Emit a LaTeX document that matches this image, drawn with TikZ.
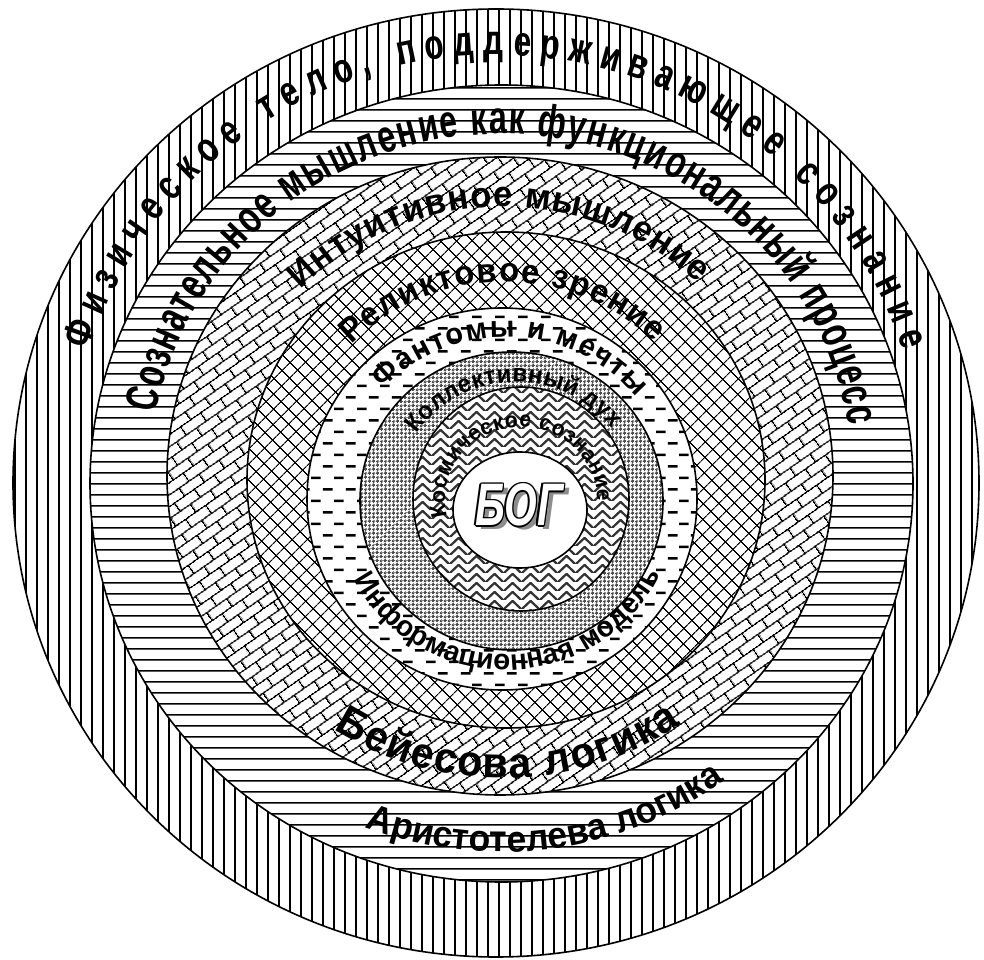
\documentclass[tikz,border=0pt]{standalone}
\usepackage{fontspec}
\setmainfont{Liberation Sans}
\newfontfamily\wfa{Liberation Sans}[FakeStretch=0.7]
\newfontfamily\wfd{Liberation Sans}[FakeStretch=0.96]
\newfontfamily\wfe{Liberation Sans}[FakeStretch=0.75]
\usetikzlibrary{patterns.meta,decorations.text}
\newcommand\tfa[1]{\wfa\bfseries\fontsize{#1}{#1}\selectfont}
\newcommand\tfd[1]{\wfd\bfseries\fontsize{#1}{#1}\selectfont}
\newcommand\tfe[1]{\wfe\bfseries\fontsize{#1}{#1}\selectfont}

\tikzdeclarepattern{
  name=vlin, type=uncolored,
  bottom left={(0pt,0pt)}, top right={(10.5pt,10.5pt)}, tile size={(10.5pt,10.5pt)},
  code={\draw[line width=1.6pt] (5.25pt,-1pt) -- (5.25pt,11.5pt);}
}
\tikzdeclarepattern{
  name=hlin, type=uncolored,
  bottom left={(0pt,0pt)}, top right={(10.7pt,10.7pt)}, tile size={(10.7pt,10.7pt)},
  code={\draw[line width=1.6pt] (-1pt,5.35pt) -- (11.7pt,5.35pt);}
}
\tikzdeclarepattern{
  name=dbrick, type=uncolored,
  bottom left={(0pt,0pt)}, top right={(24pt,20pt)}, tile size={(24pt,20pt)},
  tile transformation={rotate=35},
  code={\draw[line width=1.5pt] (-1pt,5pt)--(25pt,5pt) (-1pt,15pt)--(25pt,15pt)
      (6pt,5pt)--(6pt,15pt) (18pt,15pt)--(18pt,21pt) (18pt,-1pt)--(18pt,5pt);}
}
\tikzdeclarepattern{
  name=xh, type=uncolored,
  bottom left={(0pt,0pt)}, top right={(10.6pt,10.6pt)}, tile size={(10.6pt,10.6pt)},
  tile transformation={rotate=45},
  code={\draw[line width=1.4pt] (-1pt,5.3pt)--(11.6pt,5.3pt) (5.3pt,-1pt)--(5.3pt,11.6pt);}
}
\tikzdeclarepattern{
  name=hdash, type=uncolored,
  bottom left={(0pt,0pt)}, top right={(23pt,23.4pt)}, tile size={(23pt,23.4pt)},
  code={\draw[line width=2.6pt] (1pt,5.85pt)--(11pt,5.85pt) (12.5pt,17.55pt)--(22.5pt,17.55pt);}
}
\tikzdeclarepattern{
  name=chk, type=uncolored,
  bottom left={(0pt,0pt)}, top right={(6pt,6pt)}, tile size={(6pt,6pt)},
  tile transformation={rotate=45},
  code={\fill (0pt,0pt) rectangle (3pt,3pt) (3pt,3pt) rectangle (6pt,6pt);}
}
\tikzdeclarepattern{
  name=zz, type=uncolored,
  bottom left={(0pt,0pt)}, top right={(18pt,9pt)}, tile size={(18pt,9pt)},
  code={\draw[line width=2.4pt] (-1pt,-1pt)--(9pt,9pt)--(19pt,-1pt);}
}

\tikzset{
  ring/.style={fill=white},
  rline/.style={draw=black, line width=1.6pt},
  arctext/.style={decorate, decoration={text along path, text align=fit to path, text={#1}}}
}

\begin{document}
\begin{tikzpicture}[x=1pt,y=1pt]
\useasboundingbox (0,0) rectangle (984,959);
\fill[white] (0,0) rectangle (984,959);

% centres
\coordinate (c1) at (496,476);
\coordinate (c2) at (501.5,475.5);
\coordinate (c3) at (500,483);
\coordinate (c4) at (506,479);
\coordinate (c5) at (502,460);
\coordinate (c6) at (511.5,458);
\coordinate (c7) at (521,460);
\coordinate (c8) at (520,449);

% rings, outer to inner
\path[ring] (c1) ellipse [x radius=483, y radius=474];
\path[pattern=vlin] (c1) ellipse [x radius=483, y radius=474];
\path[rline] (c1) ellipse [x radius=483, y radius=474];

\path[ring] (c2) ellipse [x radius=411.5, y radius=398.5];
\path[pattern=hlin] (c2) ellipse [x radius=411.5, y radius=398.5];
\path[rline] (c2) ellipse [x radius=411.5, y radius=398.5];

\path[ring] (c3) ellipse [x radius=333, y radius=319];
\path[pattern=dbrick] (c3) ellipse [x radius=333, y radius=319];
\path[rline] (c3) ellipse [x radius=333, y radius=319];

\path[ring] (c4) ellipse [x radius=259, y radius=248];
\path[pattern=xh] (c4) ellipse [x radius=259, y radius=248];
\path[rline] (c4) ellipse [x radius=259, y radius=248];

\path[ring] (c5) ellipse [x radius=195, y radius=191];
\path[pattern=hdash] (c5) ellipse [x radius=195, y radius=191];
\path[rline] (c5) ellipse [x radius=195, y radius=191];

\path[ring] (c6) ellipse [x radius=151.5, y radius=149];
\path[pattern=chk, pattern color=black!70] (c6) ellipse [x radius=151.5, y radius=149];
\path[rline] (c6) ellipse [x radius=151.5, y radius=149];

\path[ring] (c7) ellipse [x radius=108, y radius=112];
\path[pattern=zz, pattern color=black!80] (c7) ellipse [x radius=108, y radius=112];
\path[rline] (c7) ellipse [x radius=108, y radius=112];

\path[ring] (c8) ellipse [x radius=67, y radius=58];
\path[rline] (c8) ellipse [x radius=67, y radius=58];

% texts
\path[arctext={|\tfe{42}|Физическое тело, поддерживающее сознание}]
  (c1) ++(162:428 and 428) arc[start angle=162, end angle=18, x radius=428, y radius=428];
\path[arctext={|\tfa{46}|Сознательное мышление как функциональный процесс}]
  (501,479) ++(169:352 and 346) arc[start angle=169, end angle=9, x radius=352, y radius=346];
\path[arctext={|\tfd{37}|Аристотелева логика}]
  (501,479) ++(249:380 and 372) arc[start angle=249, end angle=306, x radius=380, y radius=372];
\path[arctext={|\tfd{36}|Интуитивное мышление}]
  (503,481) ++(136:281 and 271) arc[start angle=136, end angle=46, x radius=281, y radius=271];
\path[arctext={|\tfd{43}|Бейесова логика}]
  (503,481) ++(237:310 and 300) arc[start angle=237, end angle=305, x radius=310, y radius=300];
\path[arctext={|\tfd{34}|Реликтовое зрение}]
  (504,471) ++(136:212 and 206) arc[start angle=136, end angle=45, x radius=212, y radius=206];
\path[arctext={|\tfd{30}|Фантомы и мечты}]
  (506,459) ++(137:168 and 163) arc[start angle=137, end angle=39, x radius=168, y radius=163];
\path[arctext={|\tfd{29}|Информационная модель}]
  (506,459) ++(208:172 and 170) arc[start angle=208, end angle=334, x radius=172, y radius=170];
\path[arctext={|\tfd{25}|Коллективный дух}]
  (516,459) ++(146:120 and 118) arc[start angle=146, end angle=37, x radius=120, y radius=118];
\path[arctext={|\tfd{22}|Космическое сознание}]
  (521,460) ++(194:76 and 72) arc[start angle=194, end angle=-2, x radius=76, y radius=72];

% centre word
\newcommand\bogtxt{\wfa\bfseries\itshape\fontsize{60}{60}\selectfont БОГ}
\node[text=black!45] (bogshadow) at (524,450) {\bogtxt};
\foreach \i/\dx/\dy in {1/1.6/0,2/-1.6/0,3/0/1.6,4/0/-1.6,5/1.1/1.1,6/-1.1/1.1,7/1.1/-1.1,8/-1.1/-1.1}
  \node[text=black] (bogo\i) at (519+\dx,454+\dy) {\bogtxt};
\node[text=white] (bog) at (519,454) {\bogtxt};
\end{tikzpicture}
\end{document}
